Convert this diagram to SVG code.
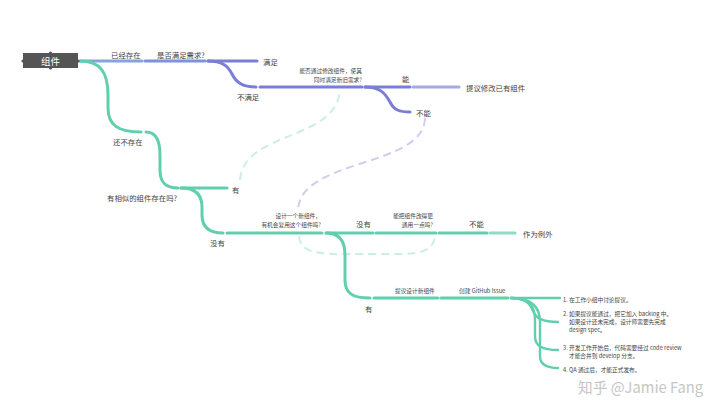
<svg xmlns="http://www.w3.org/2000/svg" width="720" height="420" viewBox="0 0 720 420">
<style>
  .t{font-family:"Noto Sans CJK SC","Noto Sans",sans-serif;fill:#444;dominant-baseline:central}
  .s8{font-size:7.4px}
  .s6{font-size:5.7px}
  .s55{font-size:5.7px}
  .g{fill:none;stroke:#5fcfae;stroke-width:3;stroke-linecap:round}
  .gl{fill:none;stroke:#8fdcc6;stroke-width:3;stroke-linecap:round}
  .gf{fill:none;stroke:#5fcfae;stroke-width:2.4;stroke-linecap:round}
  .p{fill:none;stroke:#7b7ed6;stroke-width:3;stroke-linecap:round}
  .pl{fill:none;stroke:#a4a8ea;stroke-width:3;stroke-linecap:round}
  .b1{fill:none;stroke:#86a3de;stroke-width:3;stroke-linecap:round}
  .b2{fill:none;stroke:#7d92da;stroke-width:3;stroke-linecap:round}
  .dg{fill:none;stroke:#cdeee4;stroke-width:2;stroke-dasharray:8 5}
  .dp{fill:none;stroke:#cfcdf0;stroke-width:2;stroke-dasharray:8 5}
</style>
<rect width="720" height="420" fill="#ffffff"/>
<g id="connectors">
  <path class="dg" d="M240,180 C244,130 336,142 340,90"/>
  <path class="dp" d="M425,118 C424,168 300,158 298,210"/>
  <path class="dg" d="M299,236 C300,250 312,254 340,254 L400,254 C425,254 434,248 435,236"/>
  <path class="b1" d="M80,61 L142,61"/>
  <path class="b2" d="M145,61 L205,61"/>
  <path class="p" d="M208,61 L257,61"/>
  <path class="p" d="M208,61 C222,61 228,66 232,74 C236,82 242,87 256,87"/>
  <path class="p" d="M260,87 L362,87"/>
  <path class="p" d="M365,87 L410,87"/>
  <path class="pl" d="M413,87 L459,87"/>
  <path class="p" d="M365,87 C380,87 385,93 390,102 C394,110 399,112 410,112"/>
  <path class="g" d="M80,61 C100,61 108,72 108,95 L108,108 C108,125 118,132 141,132"/>
  <path class="g" d="M146,132 C155,132 160,140 160,155 L160,170 C160,183 166,188 178,188"/>
  <path class="g" d="M181,188 L227,188"/>
  <path class="g" d="M181,188 C196,188 202,195 202,207 L202,215 C202,228 210,233 223,233"/>
  <path class="g" d="M227,233 L322,233"/>
  <path class="g" d="M326,233 L373,233"/>
  <path class="g" d="M376,233 L436,233"/>
  <path class="g" d="M439,233 L487,233"/>
  <path class="gl" d="M490,233 L515,233"/>
  <path class="g" d="M326,233 C338,233 345,240 345,255 L345,280 C345,293 352,298 370,298"/>
  <path class="g" d="M374,298 L438,298"/>
  <path class="g" d="M441,298 L508,298"/>
  <path class="gf" d="M511,298 L560,298"/>
  <path class="gf" d="M511,298 C526,298 530,304 533,311 C536,318 542,322 558,322"/>
  <path class="gf" d="M511,298 C528,298 535,305 535,320 L535,336 C535,346 542,350 558,350"/>
  <path class="gf" d="M511,298 C530,298 540,306 540,322 L540,356 C540,364 546,368 558,368"/>
</g>
<g id="node-root">
  <rect x="23" y="53" width="55" height="15" fill="#555555"/>
  <circle cx="23" cy="61" r="1.6" fill="#555555"/>
  <circle cx="78" cy="61" r="1.6" fill="#555555"/>
  <circle cx="50.5" cy="53" r="1.6" fill="#555555"/>
  <circle cx="50.5" cy="68" r="1.6" fill="#555555"/>
  <text class="t" x="50.5" y="61" font-size="9.5" text-anchor="middle" style="fill:#ffffff">组件</text>
</g>
<g id="labels-exists">
  <text class="t s8" x="111" y="54">已经存在</text>
  <text class="t s8" x="157" y="54">是否满足需求?</text>
  <text class="t s8" x="263" y="61">满足</text>
  <text class="t s8" x="237" y="96">不满足</text>
  <text class="t s6" x="362" y="70" text-anchor="end">能否通过修改组件，使其</text>
  <text class="t s6" x="362" y="79" text-anchor="end">同时满足新旧需求?</text>
  <text class="t s8" x="402" y="78">能</text>
  <text class="t s8" x="466" y="87">提议修改已有组件</text>
  <text class="t s8" x="416" y="112">不能</text>
</g>
<g id="labels-new">
  <text class="t s8" x="113" y="141">还不存在</text>
  <text class="t s8" x="107" y="197">有相似的组件存在吗?</text>
  <text class="t s8" x="232" y="189">有</text>
  <text class="t s8" x="210" y="242">没有</text>
  <text class="t s6" x="321" y="215" text-anchor="end">设计一个新组件，</text>
  <text class="t s6" x="321" y="224" text-anchor="end">有机会复用这个组件吗?</text>
  <text class="t s8" x="356" y="223">没有</text>
  <text class="t s6" x="433" y="215" text-anchor="end">能把组件改得更</text>
  <text class="t s6" x="433" y="224" text-anchor="end">通用一点吗?</text>
  <text class="t s8" x="469" y="223">不能</text>
  <text class="t s8" x="523" y="233">作为例外</text>
  <text class="t s8" x="365" y="308">有</text>
  <text class="t s6" x="395" y="290">提议设计新组件</text>
  <text class="t s6" x="459" y="290">创建 GitHub Issue</text>
</g>
<g id="steps">
  <text class="t s55" x="563" y="299">1. 在工作小组中讨论提议。</text>
  <text class="t s55" x="563" y="313">2. 如果提议能通过，把它加入 backlog 中。</text>
  <text class="t s55" x="569" y="321">如果设计还未完成，设计师需要先完成</text>
  <text class="t s55" x="569" y="329">design spec。</text>
  <text class="t s55" x="563" y="347">3. 开发工作开始后，代码需要经过 code review</text>
  <text class="t s55" x="569" y="355">才能合并到 develop 分支。</text>
  <text class="t s55" x="563" y="369">4. QA 通过后，才能正式发布。</text>
</g>
<text x="578" y="393" font-family="'Noto Sans CJK SC','Noto Sans',sans-serif" font-size="15" fill="#c6c6c6" textLength="125" lengthAdjust="spacingAndGlyphs">知乎 @Jamie Fang</text>
</svg>
